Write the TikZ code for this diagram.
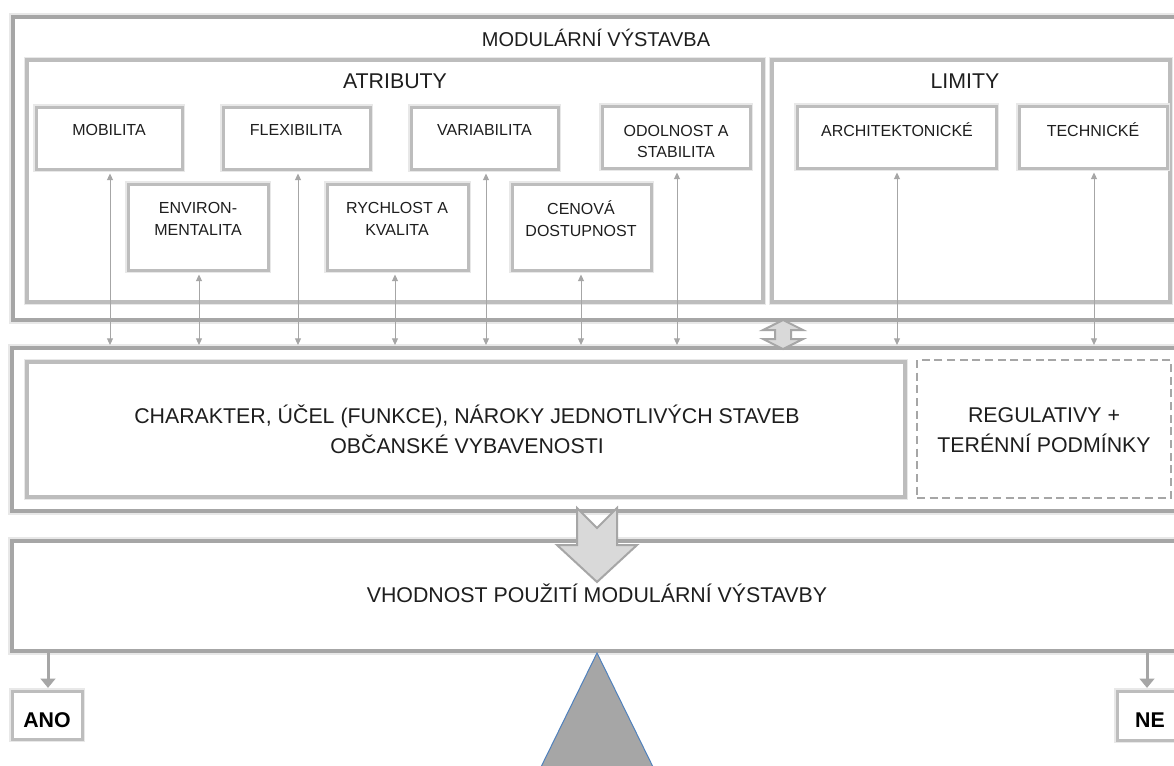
\documentclass[tikz,border=0pt]{standalone}
\usepackage{fontspec}
\setmainfont{Liberation Sans}
\usetikzlibrary{fit,arrows.meta,calc}
\definecolor{bord}{HTML}{A6A6A6}
\definecolor{sbord}{HTML}{BDBDBD}
\definecolor{halo}{HTML}{E8E8E8}
\definecolor{fillg}{HTML}{D9D9D9}
\definecolor{txt}{HTML}{1E1E1E}
\definecolor{triline}{HTML}{4F81BD}
\begin{document}
\begin{tikzpicture}[x=0.75pt,y=-0.75pt,
  bigbox/.style={draw=bord, line width=3pt, fill=white, inner sep=0pt, preaction={draw=halo, line width=5.5pt}},
  midbox/.style={draw=sbord, line width=2.6pt, fill=white, inner sep=0pt, preaction={draw=halo, line width=4.8pt}},
  sbox/.style={draw=sbord, line width=2.25pt, fill=white, inner sep=0pt, preaction={draw=halo, line width=4.5pt}},
  dashbox/.style={draw=bord, line width=1.5pt, dash pattern=on 6pt off 3.5pt, fill=white, inner sep=0pt},
  txtS/.style={font=\fontsize{12pt}{15.75pt}\selectfont, text=txt, align=center, inner sep=0pt},
  txtE/.style={font=\fontsize{12pt}{16.5pt}\selectfont, text=txt, align=center, inner sep=0pt},
  txtT/.style={font=\fontsize{15pt}{20pt}\selectfont, text=txt, align=center, inner sep=0pt},
  txtL/.style={font=\fontsize{16pt}{22.5pt}\selectfont, text=txt, align=center, inner sep=0pt},
  txtB/.style={font=\bfseries\fontsize{16pt}{19pt}\selectfont, text=black, inner sep=0pt},
  biarr/.style={draw=bord, line width=0.75pt, {Triangle[width=4.5pt,length=5pt]}-{Triangle[width=4.5pt,length=5pt]}},
  thickarr/.style={draw=bord, line width=2.25pt, -{Triangle[width=11pt,length=7pt]}},
  blockarr/.style={draw=bord, fill=fillg, line width=1.5pt, line join=miter},
]
\useasboundingbox (0,0) rectangle (1174,765);
\clip (0,0) rectangle (1174,765);
\fill[white] (0,0) rectangle (1174,765);

% top block
\node[bigbox, fit={(13,17)(1184,320)}] (mod) {};
\node[txtT] (modt) at (596,38) {MODULÁRNÍ VÝSTAVBA};
\node[midbox, fit={(27,60)(763,302)}] (atr) {};
\node[txtL] (atrt) at (395,81) {ATRIBUTY};
\node[midbox, fit={(772,60)(1170,302)}] (lim) {};
\node[txtL] (limt) at (965,81) {LIMITY};

% attribute boxes
\node[sbox, fit={(36,107)(182,169)}] (mob) {};
\node[txtS] (mobt) at (109,130) {MOBILITA};
\node[sbox, fit={(223,107)(370,169)}] (fle) {};
\node[txtS] (flet) at (296,130) {FLEXIBILITA};
\node[sbox, fit={(411,107)(558,169)}] (var) {};
\node[txtS] (vart) at (484.5,130) {VARIABILITA};
\node[sbox, fit={(602,106)(750,168)}] (odo) {};
\node[txtS] (odot) at (676,141.5) {ODOLNOST A\\STABILITA};
\node[sbox, fit={(797,106)(996,168)}] (arc) {};
\node[txtS] (arct) at (897,130) {ARCHITEKTONICKÉ};
\node[sbox, fit={(1019,106)(1167,168)}] (tec) {};
\node[txtS] (tect) at (1093,130) {TECHNICKÉ};
\node[sbox, fit={(128,184)(268,270)}] (env) {};
\node[txtE] (envt) at (198,219) {ENVIRON-\\MENTALITA};
\node[sbox, fit={(327,184)(468,270)}] (ryc) {};
\node[txtE] (ryct) at (397,219) {RYCHLOST A\\KVALITA};
\node[sbox, fit={(512,184)(651,270)}] (cen) {};
\node[txtE] (cent) at (581,219) {CENOVÁ\\DOSTUPNOST};

% middle block
\node[bigbox, fit={(12,348)(1184,511)}] (mid) {};
\node[midbox, fit={(27,362)(905,497)}] (cha) {};
\node[txtL] (chat) at (467,429) {CHARAKTER, ÚČEL (FUNKCE), NÁROKY JEDNOTLIVÝCH STAVEB\\OBČANSKÉ VYBAVENOSTI};
\node[dashbox, fit={(917,360)(1171,498)}] (reg) {};
\node[txtL] (regt) at (1044,430) {REGULATIVY +\\TERÉNNÍ PODMÍNKY};

% bottom block
\node[bigbox, fit={(12,541)(1184,651)}] (vho) {};
\node[txtL] (vhot) at (597,593) {VHODNOST POUŽITÍ MODULÁRNÍ VÝSTAVBY};

\node[sbox, fit={(12,691)(82,739)}] (ano) {};
\node[txtB] (anot) at (47,720) {ANO};
\node[sbox, fit={(1117,691)(1184,740)}] (ne) {};
\node[txtB] (net) at (1150,720) {NE};

% small bidirectional arrows
\coordinate (xmob) at (110,345);
\coordinate (xenv) at (199,345);
\coordinate (xfle) at (298,345);
\coordinate (xryc) at (395,345);
\coordinate (xvar) at (486,345);
\coordinate (xcen) at (581,345);
\coordinate (xodo) at (677,345);
\coordinate (xarc) at (897,345);
\coordinate (xtec) at (1094,345);
\foreach \n in {mob,env,fle,ryc,var,cen,odo,arc,tec}{
  \draw[biarr, shorten <=2.25pt] (x\n |- \n.south) -- (x\n);
}

% double block arrow between top and middle blocks
\coordinate (dc) at (783,334.5);
\draw[blockarr, shift={(dc)}] (0,-14.5) -- (20,-4.5) -- (8,-4.5) -- (8,4.5) -- (20,4.5) -- (0,14.5) -- (-20,4.5) -- (-8,4.5) -- (-8,-4.5) -- (-20,-4.5) -- cycle;

% big down arrow
\coordinate (bc) at (597,508);
\draw[blockarr, shift={(bc)}] (-20,0) -- (0,20) -- (20,0) -- (20,37) -- (40,37) -- (0,74) -- (-40,37) -- (-20,37) -- cycle;

% ANO / NE arrows
\coordinate (xano) at (48,651);
\coordinate (xne) at (1147,651);
\draw[thickarr, shorten >=1.2pt] (xano |- vho.south) -- (xano |- ano.north);
\draw[thickarr, shorten >=1.2pt] (xne |- vho.south) -- (xne |- ne.north);

% triangle
\coordinate (tapex) at (597,653);
\draw[fill=bord, draw=triline, line width=0.75pt] (tapex) -- (654.5,770) -- (539.5,770) -- cycle;
\end{tikzpicture}
\end{document}
